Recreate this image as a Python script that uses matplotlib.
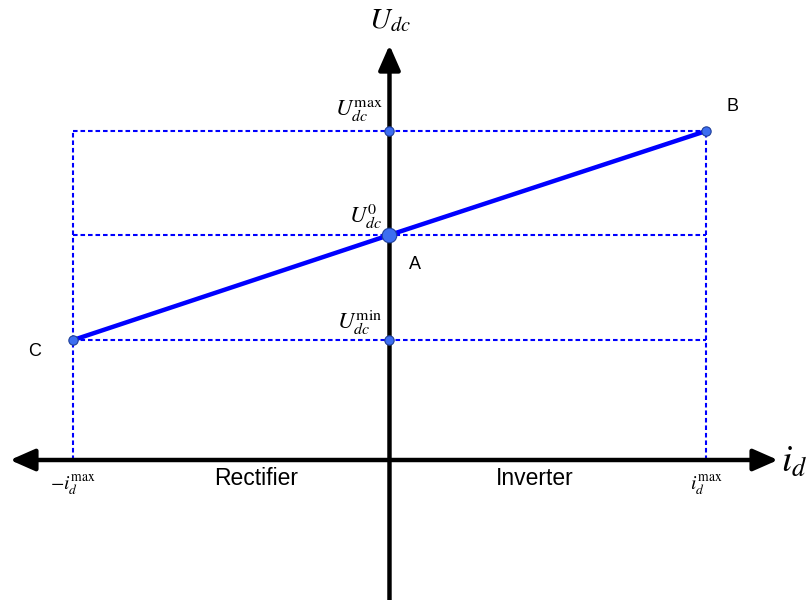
import matplotlib
matplotlib.use("Agg")
import matplotlib.pyplot as plt

# Operating points (normalised current, DC voltage)
id_max = 1.0
u_dc0 = 1.0
u_dc_max = 1.462
u_dc_min = 0.533

point_names = ["C", "A", "B"]
point_i = [-id_max, 0.0, id_max]
point_u = [u_dc_min, u_dc0, u_dc_max]

plt.rcParams["mathtext.fontset"] = "stix"

fig = plt.figure(figsize=(8.11, 6.0), dpi=100)
ax = fig.add_axes([0, 0, 1, 1])
ax.set_xlim(-1.2306, 1.3318)
ax.set_ylim(-0.6222, 2.0444)
ax.axis("off")

blue = "#0000ff"
dot_face = "#3d6ef0"
dot_edge = "#1f3f99"
dash = (0, (2.2, 1.4))

# Guide lines for the operating envelope
for u in (u_dc_max, u_dc0, u_dc_min):
    ax.plot([-id_max, id_max], [u, u], color=blue, lw=1.5, ls=dash, zorder=1)
for i in (-id_max, id_max):
    ax.plot([i, i], [0, u_dc_max], color=blue, lw=1.5, ls=dash, zorder=1)

# Axes with arrowheads
ax.annotate("", xy=(-1.199, 0), xytext=(1.2275, 0),
            arrowprops=dict(arrowstyle="<|-|>,head_length=0.5,head_width=0.22",
                            color="black", lw=3.2,
                            mutation_scale=30, shrinkA=0, shrinkB=0), zorder=2)
ax.annotate("", xy=(0, 1.844), xytext=(0, -0.7),
            arrowprops=dict(arrowstyle="-|>,head_length=0.5,head_width=0.22",
                            color="black", lw=3.2,
                            mutation_scale=30, shrinkA=0, shrinkB=0), zorder=2)

# Droop characteristic
ax.plot(point_i, point_u, color=blue, lw=3.2, solid_capstyle="round", zorder=3)

# Markers
ax.scatter([-id_max, id_max], [u_dc_min, u_dc_max], s=45, c=dot_face,
           edgecolors=dot_edge, linewidths=0.8, zorder=4)
ax.scatter([0, 0], [u_dc_max, u_dc_min], s=45, c=dot_face,
           edgecolors=dot_edge, linewidths=0.8, zorder=4)
ax.scatter([0], [u_dc0], s=110, c=dot_face, edgecolors=dot_edge,
           linewidths=0.8, zorder=4)

sans = "Liberation Sans"

# Point labels
label_pos = {"C": (-1.12, 0.48), "A": (0.08, 0.87), "B": (1.085, 1.57)}
for name in point_names:
    x, y = label_pos[name]
    ax.text(x, y, name, fontsize=13, family=sans, ha="center", va="center")

# Voltage labels on the vertical axis
ax.text(0.0, 1.955, r"$U_{dc}$", fontsize=21, ha="center", va="center")
ax.text(-0.095, 1.55, r"$U_{dc}^{\mathrm{max}}$", fontsize=16.5, ha="center", va="center")
ax.text(-0.075, 1.085, r"$U_{dc}^{0}$", fontsize=16.5, ha="center", va="center")
ax.text(-0.095, 0.61, r"$U_{dc}^{\mathrm{min}}$", fontsize=16.5, ha="center", va="center")

# Current labels on the horizontal axis
ax.text(1.278, -0.01, r"$i_d$", fontsize=27, ha="center", va="center")
ax.text(-id_max, -0.115, r"$-i_d^{\mathrm{max}}$", fontsize=14, ha="center", va="center")
ax.text(id_max, -0.115, r"$i_d^{\mathrm{max}}$", fontsize=14, ha="center", va="center")

# Operating regions
ax.text(-0.42, -0.08, "Rectifier", fontsize=16.5, family=sans, ha="center", va="center")
ax.text(0.46, -0.08, "Inverter", fontsize=16.5, family=sans, ha="center", va="center")

fig.savefig("out.png", dpi=100)
